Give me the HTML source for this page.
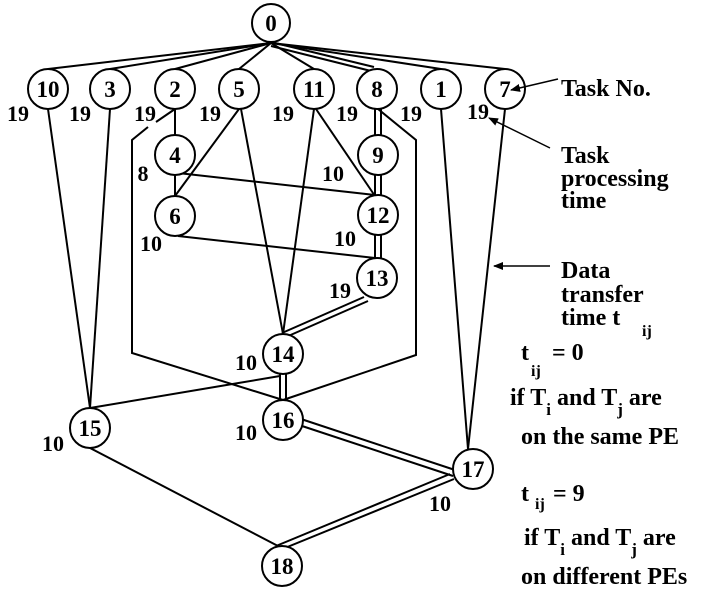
<!DOCTYPE html>
<html><head><meta charset="utf-8"><style>
html,body{margin:0;padding:0;background:#fff;}
svg{display:block;}
text{font-family:"Liberation Serif",serif;font-weight:bold;fill:#000;}
</style></head><body>
<svg width="706" height="593" viewBox="0 0 706 593" xmlns="http://www.w3.org/2000/svg">
<defs><marker id="ah" markerWidth="10" markerHeight="8" refX="9" refY="4" orient="auto" markerUnits="userSpaceOnUse"><path d="M0,0 L10,4 L0,8 Z" fill="#000"/></marker></defs>
<g stroke="#000" stroke-width="2" fill="none">
<line x1="271" y1="43" x2="48" y2="69"/>
<line x1="271" y1="43" x2="110" y2="69"/>
<line x1="271" y1="43" x2="175" y2="69"/>
<line x1="271" y1="43" x2="239" y2="69"/>
<line x1="271" y1="43" x2="314" y2="69"/>
<line x1="271" y1="42" x2="374" y2="67"/>
<line x1="271" y1="46" x2="371" y2="71"/>
<line x1="271" y1="43" x2="441" y2="69"/>
<line x1="271" y1="43" x2="505" y2="69"/>
<line x1="48" y1="109" x2="90" y2="408"/>
<line x1="110" y1="109" x2="90" y2="408"/>
<polyline points="175,109 156,122"/>
<polyline points="148,127 132,140 132,353 283,400"/>
<polyline points="378,109 416,140 416,355 283,400"/>
<line x1="175" y1="109" x2="175" y2="135"/>
<line x1="175" y1="175" x2="175" y2="196"/>
<line x1="239" y1="109" x2="175" y2="196"/>
<line x1="241" y1="109" x2="283" y2="334"/>
<line x1="314" y1="109" x2="283" y2="334"/>
<line x1="316" y1="109" x2="375" y2="196"/>
<line x1="178" y1="173" x2="375" y2="195"/>
<line x1="178" y1="236" x2="375" y2="258"/>
<line x1="375" y1="109" x2="375" y2="135"/><line x1="381" y1="109" x2="381" y2="135"/>
<line x1="375" y1="175" x2="375" y2="195"/><line x1="381" y1="175" x2="381" y2="195"/>
<line x1="375" y1="235" x2="375" y2="258"/><line x1="381" y1="235" x2="381" y2="258"/>
<line x1="364" y1="297" x2="282" y2="333"/><line x1="368" y1="301" x2="286" y2="337"/>
<line x1="280" y1="374" x2="280" y2="400"/><line x1="286" y1="374" x2="286" y2="400"/>
<line x1="301" y1="419" x2="455" y2="470"/><line x1="299" y1="425" x2="453" y2="476"/>
<line x1="450" y1="474" x2="276" y2="546"/><line x1="454" y1="479" x2="280" y2="550"/>
<line x1="280" y1="376" x2="90" y2="408"/>
<line x1="441" y1="109" x2="468" y2="449"/>
<line x1="505" y1="109" x2="468" y2="449"/>
<line x1="90" y1="448" x2="278" y2="546"/>
</g>
<g stroke="#000" stroke-width="2" fill="#fff">
<circle cx="271" cy="23" r="19"/>
<circle cx="48" cy="89" r="20"/><circle cx="110" cy="89" r="20"/><circle cx="175" cy="89" r="20"/><circle cx="239" cy="89" r="20"/>
<circle cx="314" cy="89" r="20"/><circle cx="377" cy="89" r="20"/><circle cx="441" cy="89" r="20"/><circle cx="505" cy="89" r="20"/>
<circle cx="175" cy="155" r="20"/><circle cx="378" cy="155" r="20"/>
<circle cx="175" cy="216" r="20"/><circle cx="378" cy="215" r="20"/>
<circle cx="377" cy="278" r="20"/>
<circle cx="283" cy="354" r="20"/><circle cx="283" cy="420" r="20"/>
<circle cx="90" cy="428" r="20"/><circle cx="473" cy="469" r="20"/><circle cx="282" cy="566" r="20"/>
</g>
<g stroke="#000" stroke-width="1.5" fill="none">
<line x1="558" y1="79" x2="511" y2="90" marker-end="url(#ah)"/>
<line x1="550" y1="148" x2="489" y2="118" marker-end="url(#ah)"/>
<line x1="550" y1="266" x2="494" y2="266" marker-end="url(#ah)"/>
</g>
<g font-size="23" text-anchor="middle">
<text x="271" y="31">0</text>
<text x="48" y="97">10</text><text x="110" y="97">3</text><text x="175" y="97">2</text><text x="239" y="97">5</text>
<text x="314" y="97">11</text><text x="377" y="97">8</text><text x="441" y="97">1</text><text x="505" y="97">7</text>
<text x="175" y="163">4</text><text x="378" y="163">9</text><text x="175" y="224">6</text><text x="378" y="223">12</text>
<text x="377" y="286">13</text><text x="283" y="362">14</text><text x="283" y="428">16</text><text x="90" y="436">15</text>
<text x="473" y="477">17</text><text x="282" y="574">18</text>
</g>
<g font-size="22" text-anchor="middle">
<text x="18" y="121">19</text><text x="80" y="121">19</text><text x="145" y="121">19</text><text x="210" y="121">19</text>
<text x="283" y="121">19</text><text x="347" y="121">19</text><text x="411" y="121">19</text><text x="478" y="119">19</text>
<text x="143" y="181">8</text><text x="333" y="181">10</text><text x="151" y="251">10</text><text x="345" y="246">10</text>
<text x="340" y="298">19</text><text x="246" y="370">10</text><text x="246" y="440">10</text><text x="53" y="451">10</text>
<text x="440" y="511">10</text>
</g>
<g font-size="24">
<text x="561" y="96">Task No.</text>
<text x="561" y="163">Task</text><text x="561" y="186">processing</text><text x="561" y="208">time</text>
<text x="561" y="278">Data</text><text x="561" y="302">transfer</text><text x="561" y="325">time t</text><text x="642" y="336" font-size="16">ij</text>
<text x="521" y="360">t</text><text x="531" y="376" font-size="16">ij</text><text x="552" y="360">= 0</text>
<text x="510" y="405">if T<tspan dy="10" font-size="17">i</tspan><tspan dy="-10"> and T</tspan><tspan dy="10" font-size="17">j</tspan><tspan dy="-10"> are</tspan></text>
<text x="521" y="444">on the same PE</text>
<text x="521" y="501">t</text><text x="535" y="509" font-size="16">ij</text><text x="553" y="501">= 9</text>
<text x="524" y="545">if T<tspan dy="10" font-size="17">i</tspan><tspan dy="-10"> and T</tspan><tspan dy="10" font-size="17">j</tspan><tspan dy="-10"> are</tspan></text>
<text x="521" y="584">on different PEs</text>
</g>
</svg>
</body></html>
